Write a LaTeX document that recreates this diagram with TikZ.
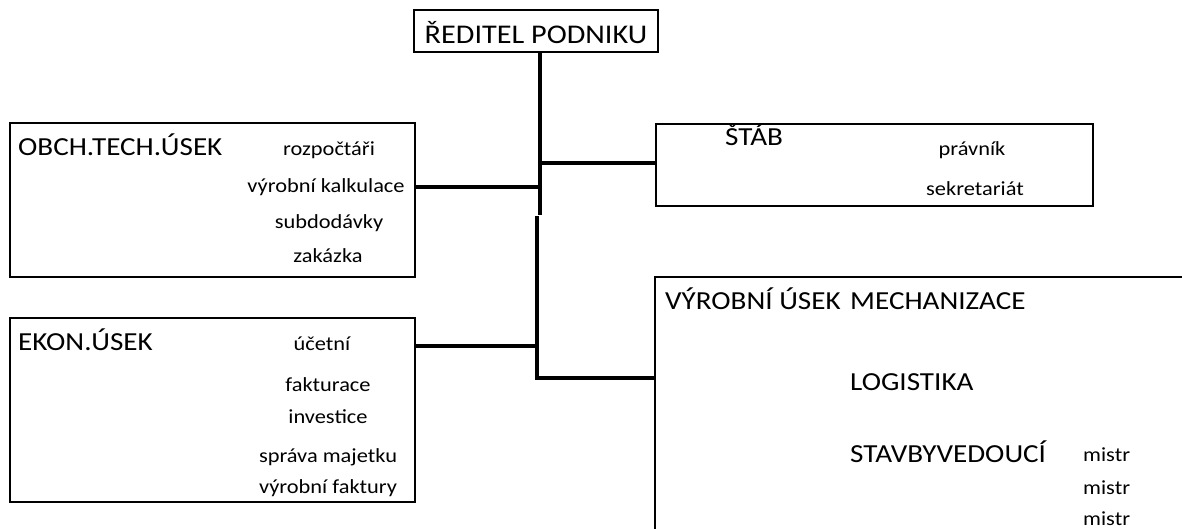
\documentclass[tikz,border=0pt]{standalone}
\usepackage{fontspec}
\setmainfont{Carlito}[FakeStretch=1.12]
\begin{document}
\begin{tikzpicture}[x=1pt,y=-1pt,
  box/.style={draw,line width=2.8pt,inner sep=0pt},
  conn/.style={line width=3.6pt},
  head/.style={font=\fontsize{26}{30}\selectfont,inner sep=0pt,anchor=base west},
  title/.style={font=\fontsize{27}{31}\selectfont,inner sep=0pt,anchor=base},
  item/.style={font=\fontsize{20}{24}\selectfont,inner sep=0pt,anchor=base},
  itemw/.style={font=\fontsize{20}{24}\selectfont,inner sep=0pt,anchor=base west}]
\useasboundingbox (0,0) rectangle (1182,528);
\clip (0,0) rectangle (1182,528);
% boxes
\node[box,minimum width=244pt,minimum height=42pt] (ceo) at (536,31) {};
\node[box,minimum width=405pt,minimum height=154pt] (obch) at (212.5,200) {};
\node[box,minimum width=405pt,minimum height=184pt] (ekon) at (212.5,410) {};
\node[box,minimum width=437pt,minimum height=82pt] (stab) at (874.5,165) {};
\node[box,minimum width=600pt,minimum height=400pt] (vyr) at (955,477) {};
% texts
\node[title] (ceot) at (536,43) {ŘEDITEL PODNIKU};
\node[head] (obcht) at (18,155) {OBCH.TECH.ÚSEK};
\node[item] (o1) at (329,155) {rozpočtáři};
\node[item] (o2) at (326,192) {výrobní kalkulace};
\node[item] (o3) at (329,228) {subdodávky};
\node[item] (o4) at (328,262) {zakázka};
\node[head] (ekont) at (18,350) {EKON.ÚSEK};
\node[item] (e1) at (322,350) {účetní};
\node[item] (e2) at (328,391) {fakturace};
\node[item] (e3) at (328,423) {investice};
\node[item] (e4) at (328,462) {správa majetku};
\node[item] (e5) at (328,493) {výrobní faktury};
\node[head] (stabt) at (725,145) {ŠTÁB};
\node[item] (s1) at (972,155) {právník};
\node[item] (s2) at (975,195) {sekretariát};
\node[head] (vyrt) at (665,309) {VÝROBNÍ ÚSEK};
\node[head] (v1) at (850,309) {MECHANIZACE};
\node[head] (v2) at (850,390) {LOGISTIKA};
\node[head] (v3) at (850,462) {STAVBYVEDOUCÍ};
\node[itemw] (m1) at (1083,461) {mistr};
\node[itemw] (m2) at (1083,494) {mistr};
\node[itemw] (m3) at (1083,525) {mistr};
% junction points
\coordinate (jtop) at (540,215);
\coordinate (jo) at (540,187);
\coordinate (js) at (540,163);
\coordinate (jbot) at (537,216);
\coordinate (je) at (537,346);
\coordinate (jvyr) at (537,378);
% connectors
\draw[conn] (ceo.south -| jtop) -- (jtop);
\draw[conn] (obch.east |- jo) -- (jo);
\draw[conn] (js) -- (stab.west |- js);
\draw[conn] (ekon.east |- je) -- (je);
\draw[conn] (jbot) -- (jvyr) -- (vyr.west |- jvyr);
\end{tikzpicture}
\end{document}
